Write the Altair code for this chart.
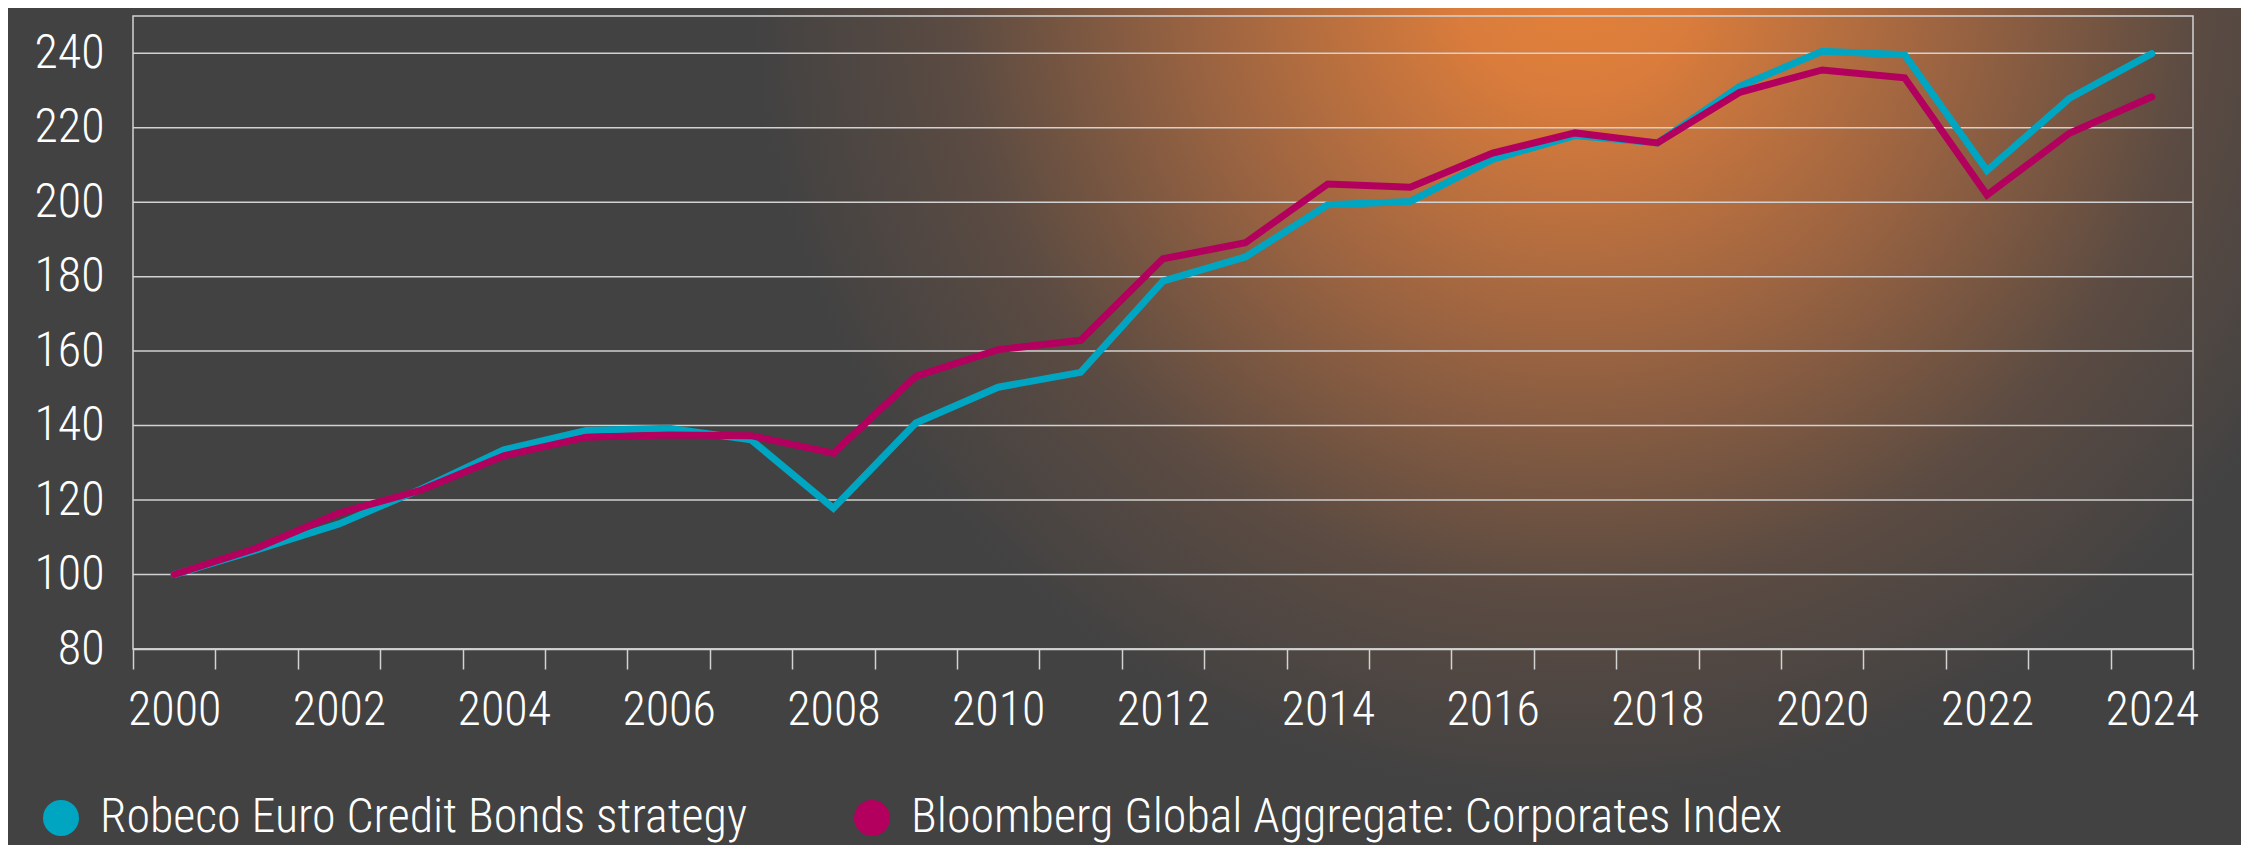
import altair as alt
import pandas as pd

years = list(range(2000, 2025))
robeco = [100, 106.6, 113.6, 123.0, 133.5, 138.7, 139.3, 136.2, 117.8, 140.7,
          150.3, 154.3, 178.8, 185.3, 199.3, 200.2, 211.5, 217.9, 215.9, 231.1,
          240.5, 239.6, 208.5, 227.9, 239.9]
bloomberg = [100, 107.1, 116.5, 122.7, 131.9, 136.9, 137.5, 137.3, 132.6, 153.2,
             160.4, 162.9, 184.8, 189.1, 204.9, 204.0, 213.2, 218.6, 215.9, 229.5,
             235.5, 233.4, 201.9, 218.5, 228.3]
series_names = ["Robeco Euro Credit Bonds strategy",
                "Bloomberg Global Aggregate: Corporates Index"]
series_colors = ["#00a5c2", "#b3005f"]
y_ticks = [80, 100, 120, 140, 160, 180, 200, 220, 240]

rows = []
for y, a, b in zip(years, robeco, bloomberg):
    rows.append({"year": y, "series": series_names[0], "value": a})
    rows.append({"year": y, "series": series_names[1], "value": b})
df = pd.DataFrame(rows)
grid_df = pd.DataFrame({"tick": y_ticks})
one = pd.DataFrame({"a": [0]})

W, H = 2060, 633
PL, PT, PR, PB = 125, 8, 48, 196
FONT = "Roboto Condensed, Roboto, sans-serif"
GRID = "#d2d2d2"

tw = W + PL + PR
th = H + PT + PB
S = max(tw, th)
# Vega wraps radial gradients in a 'slice' pattern: unit square -> S x S, centred
cx_px, cy_px, r_px = 1575 - 8.0, -30 - 8.0, 830.0
nx = (cx_px + (S - tw) / 2) / S
ny = (cy_px + (S - th) / 2) / S
grad = {
    "gradient": "radial",
    "x1": nx, "y1": ny, "r1": 0,
    "x2": nx, "y2": ny, "r2": r_px / S,
    "stops": [
        {"offset": 0.0, "color": "#e5813b"},
        {"offset": 0.15, "color": "#d97c3c"},
        {"offset": 0.45, "color": "#9c6441"},
        {"offset": 0.75, "color": "#5b4b42"},
        {"offset": 1.0, "color": "#424242"},
    ],
}

bg = alt.Chart(one).mark_rect(fill=grad).encode(
    x=alt.value(-PL), x2=alt.value(W + PR), y=alt.value(-PT), y2=alt.value(H + PB)
)

grid = alt.Chart(grid_df).mark_rule(color=GRID, strokeWidth=1.5).encode(
    y=alt.Y("tick:Q")
)

frame = alt.Chart(one).mark_rect(filled=False, stroke=GRID, strokeWidth=1.5).encode(
    x=alt.value(0), x2=alt.value(W), y=alt.value(0), y2=alt.value(H)
)

xscale = alt.Scale(type="band", paddingInner=0, paddingOuter=0)
yscale = alt.Scale(domain=[80, 250], nice=False, zero=False)
cscale = alt.Scale(domain=series_names, range=series_colors)

xenc = alt.X("year:O", scale=xscale, bandPosition=0.5, title=None,
             axis=alt.Axis(labelExpr="datum.value % 2 == 0 ? datum.label : ''",
                           labelAngle=0, labelOverlap=False, tickBand="extent",
                           ticks=True, tickSize=20, tickWidth=1.5, tickColor=GRID,
                           domain=True, domainColor=GRID, domainWidth=1.5,
                           labelPadding=17, labelBaseline="top", grid=False,
                           zindex=2))
yenc = alt.Y("value:Q", scale=yscale, title=None,
             axis=alt.Axis(values=y_ticks, grid=False, ticks=False, domain=False,
                           labelPadding=29, zindex=2))

# small dots hidden beneath the lines; they carry the legend
dots = alt.Chart(df).mark_circle(size=12, opacity=1).encode(
    x=xenc, y=yenc,
    fill=alt.Fill("series:N", scale=cscale, title=None, sort=series_names,
                  legend=alt.Legend(orient="none", legendX=-96, legendY=778,
                                    direction="horizontal", symbolType="circle",
                                    symbolSize=1296, symbolStrokeWidth=0,
                                    symbolOpacity=1,
                                    labelFont=FONT, labelFontSize=48,
                                    labelFontWeight=300, labelColor="#ffffff",
                                    labelOffset=15, columnPadding=100,
                                    labelLimit=2000, zindex=2)),
)

lines = alt.Chart(df).mark_line(strokeWidth=7, strokeCap="round").encode(
    x=xenc, y=yenc,
    stroke=alt.Stroke("series:N", scale=cscale, legend=None, sort=series_names),
)

chart = alt.layer(bg, grid, frame, dots, lines).properties(
    width=W, height=H,
    padding={"left": PL, "top": PT, "right": PR, "bottom": PB},
    autosize=alt.AutoSizeParams(type="none"),
).configure(background="#424242").configure_view(stroke=None).configure_axis(
    labelFont=FONT, labelFontSize=48, labelFontWeight=300,
    labelColor="#ffffff"
)

chart.save("out.html", embed_options={"renderer": "svg", "actions": False})
